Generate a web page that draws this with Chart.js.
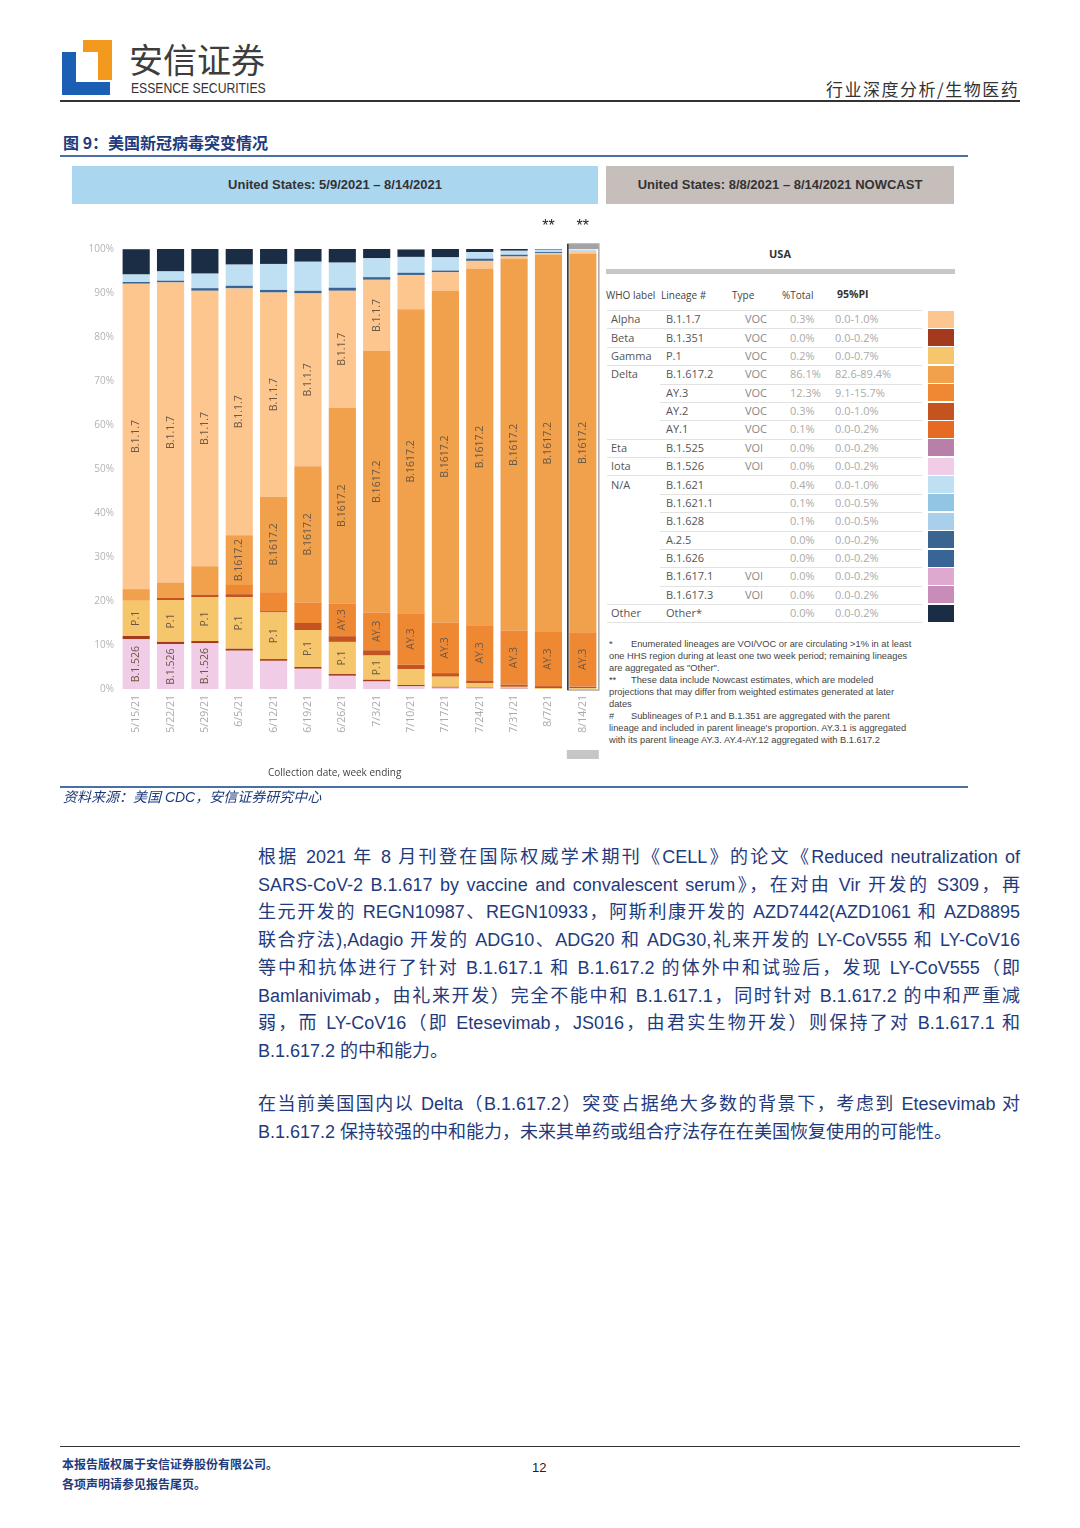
<!DOCTYPE html>
<html>
<head>
<meta charset="utf-8">
<script src="https://cdn.jsdelivr.net/npm/chart.js@4.4.0/dist/chart.umd.min.js"></script>
<style>
  body { margin: 0; background: #fff; width: 1080px; height: 1528px; position: relative; overflow: hidden;
         font-family: "Liberation Sans", Arial, "Noto Sans CJK SC", sans-serif; }
  .abs { position: absolute; }
  .hline { position: absolute; height: 0; }
  .ln { position: absolute; left: 258px; width: 762px; height: 28px; line-height: 28px; font-size: 18px; color: #1f3b7d;
        text-align: justify; text-align-last: justify; font-family: "Liberation Sans", Arial, "Noto Sans CJK SC", sans-serif; }
  .ln.last { text-align-last: left; }
  .tbl { font-family: "Open Sans", sans-serif; font-size: 11px; color: #555; white-space: nowrap; }
  .fn { position: absolute; left: 609px; font-size: 9.3px; line-height: 12px; color: #444; white-space: nowrap; font-family: "Liberation Sans", Arial, sans-serif; }
</style>
</head>
<body>

<!-- header -->
<div class="abs" style="left:83px;top:40px;width:29px;height:12px;background:#f39a1e"></div>
<div class="abs" style="left:98px;top:40px;width:14px;height:40px;background:#f39a1e"></div>
<div class="abs" style="left:62px;top:52px;width:14px;height:43px;background:#1a5fb4"></div>
<div class="abs" style="left:62px;top:82px;width:48px;height:13px;background:#1a5fb4"></div>
<div class="abs" style="left:129px;top:42px;font-size:34px;color:#3d3d3d;font-family:'Noto Sans CJK SC';line-height:34px;height:34px">安信证券</div>
<div class="abs" style="left:131px;top:81px;font-size:14px;color:#333;font-family:'Liberation Sans';line-height:14px;transform:scaleX(0.87);transform-origin:0 0;white-space:nowrap">ESSENCE SECURITIES</div>
<div class="abs" style="left:826px;top:78px;font-size:17px;color:#333;font-family:'Noto Sans CJK SC';line-height:22px;letter-spacing:1.5px">行业深度分析/生物医药</div>
<div class="hline" style="left:60px;top:100px;width:960px;border-top:2px solid #333"></div>

<div class="abs" style="left:63px;top:131px;font-size:16px;font-weight:bold;color:#1f3b7d;font-family:'Noto Sans CJK SC';line-height:22px">图 9：美国新冠病毒突变情况</div>
<div class="hline" style="left:60px;top:155px;width:908px;border-top:2px solid #4a6fa5"></div>

<!-- chart panel headers -->
<div class="abs" style="left:72px;top:166px;width:526px;height:38px;background:#aad6f0;text-align:center;line-height:38px;font-size:13px;font-weight:bold;color:#333">United States: 5/9/2021 – 8/14/2021</div>
<div class="abs" style="left:606px;top:166px;width:348px;height:38px;background:#c6bebb;text-align:center;line-height:38px;font-size:13px;font-weight:bold;color:#333">United States: 8/8/2021 – 8/14/2021 NOWCAST</div>

<div class="abs" style="left:72px;top:205px;width:530px;height:575px"><canvas id="variantChart"></canvas></div>
<div class="abs" style="left:268px;top:765px;font-size:10px;color:#444;font-family:'Open Sans'">Collection date, week ending</div>

<!-- nowcast table -->
<div class="abs tbl" style="left:606px;top:246px;width:348px;text-align:center;font-weight:bold;font-size:11px;color:#333">USA</div>
<div class="abs" style="left:606px;top:269px;width:349px;height:5px;background:#c8c8c8"></div>
<div id="tbl"></div>

<div class="fn" style="top:638px"><span style="display:inline-block;width:22px">*</span>Enumerated lineages are VOI/VOC or are circulating &gt;1% in at least</div>
<div class="fn" style="top:650px">one HHS region during at least one two week period; remaining lineages</div>
<div class="fn" style="top:662px">are aggregated as "Other".</div>
<div class="fn" style="top:674px"><span style="display:inline-block;width:22px">**</span>These data include Nowcast estimates, which are modeled</div>
<div class="fn" style="top:686px">projections that may differ from weighted estimates generated at later</div>
<div class="fn" style="top:698px">dates</div>
<div class="fn" style="top:710px"><span style="display:inline-block;width:22px">#</span>Sublineages of P.1 and B.1.351 are aggregated with the parent</div>
<div class="fn" style="top:722px">lineage and included in parent lineage's proportion. AY.3.1 is aggregated</div>
<div class="fn" style="top:734px">with its parent lineage AY.3. AY.4-AY.12 aggregated with B.1.617.2</div>

<div class="hline" style="left:60px;top:786px;width:908px;border-top:2px solid #4a6fa5"></div>
<div class="abs" style="left:63px;top:787px;font-size:14px;font-style:italic;color:#1f3b7d;line-height:20px;font-family:'Liberation Sans','Noto Sans CJK SC'">资料来源：美国 CDC，安信证券研究中心</div>

<!-- body text -->
<div class="ln" style="top:843px">根据 2021 年 8 月刊登在国际权威学术期刊《CELL》的论文《Reduced neutralization of</div>
<div class="ln" style="top:871px">SARS-CoV-2 B.1.617 by vaccine and convalescent serum》，在对由 Vir 开发的 S309，再</div>
<div class="ln" style="top:898px">生元开发的 REGN10987、REGN10933，阿斯利康开发的 AZD7442(AZD1061 和 AZD8895</div>
<div class="ln" style="top:926px">联合疗法),Adagio 开发的 ADG10、ADG20 和 ADG30,礼来开发的 LY-CoV555 和 LY-CoV16</div>
<div class="ln" style="top:954px">等中和抗体进行了针对 B.1.617.1 和 B.1.617.2 的体外中和试验后，发现 LY-CoV555（即</div>
<div class="ln" style="top:982px">Bamlanivimab，由礼来开发）完全不能中和 B.1.617.1，同时针对 B.1.617.2 的中和严重减</div>
<div class="ln" style="top:1009px">弱，而 LY-CoV16（即 Etesevimab，JS016，由君实生物开发）则保持了对 B.1.617.1 和</div>
<div class="ln last" style="top:1037px">B.1.617.2 的中和能力。</div>
<div class="ln" style="top:1090px">在当前美国国内以 Delta（B.1.617.2）突变占据绝大多数的背景下，考虑到 Etesevimab 对</div>
<div class="ln last" style="top:1118px">B.1.617.2 保持较强的中和能力，未来其单药或组合疗法存在在美国恢复使用的可能性。</div>

<!-- footer -->
<div class="hline" style="left:60px;top:1446px;width:960px;border-top:1.5px solid #333"></div>
<div class="abs" style="left:62px;top:1455px;font-size:12px;font-weight:bold;color:#1f3b7d;font-family:'Noto Sans CJK SC';line-height:18px">本报告版权属于安信证券股份有限公司。</div>
<div class="abs" style="left:62px;top:1475px;font-size:12px;font-weight:bold;color:#1f3b7d;font-family:'Noto Sans CJK SC';line-height:18px">各项声明请参见报告尾页。</div>
<div class="abs" style="left:532px;top:1459px;font-size:13px;color:#222;line-height:18px">12</div>

<script>
// week ending dates
var weeks = ["5/15/21", "5/22/21", "5/29/21", "6/5/21", "6/12/21", "6/19/21", "6/26/21",
             "7/3/21", "7/10/21", "7/17/21", "7/24/21", "7/31/21", "8/7/21", "8/14/21"];

// share of sequences (%), stacked bottom -> top
var b1526  = [11.3, 10.2, 10.4, 8.7, 6.4, 4.6, 3.0, 1.7, 0.6, 0.3, 0.2, 0.1, 0, 0];
var b1351  = [0.75, 0.5, 0.5, 0.45, 0.4, 0.4, 0.4, 0.4, 0.3, 0.2, 0.1, 0.1, 0, 0];
var p1     = [8.0, 9.5, 10.0, 11.7, 10.6, 8.4, 7.3, 5.5, 3.6, 2.3, 1.0, 0.3, 0.2, 0.2];
var ay2    = [0, 0.5, 0.5, 0.7, 0.3, 1.6, 1.3, 1.2, 1.0, 0.8, 0.6, 0.5, 0.45, 0.3];
var ay1    = [0, 0, 0, 0, 0, 0, 0, 0, 0, 0, 0, 0, 0, 0.1];
var ay3    = [0, 0, 0, 2.1, 4.3, 4.7, 7.4, 8.6, 11.7, 11.5, 12.6, 12.3, 12.3, 12.3];
var b16172 = [2.65, 3.5, 6.5, 11.3, 21.7, 30.9, 44.5, 59.4, 69.1, 75.4, 81.0, 84.4, 85.8, 86.1];
var b117   = [69.4, 68.2, 62.6, 56.1, 46.4, 39.3, 26.6, 16.2, 7.8, 4.2, 1.8, 0.6, 0.3, 0.3];
var b1626  = [0.4, 0.4, 0.6, 0.6, 0.6, 0.6, 0.7, 0.6, 0.5, 0.4, 0.5, 0.4, 0.25, 0];
var b1628  = [0, 0, 0, 0, 0, 0, 0, 0, 0, 0, 0, 0, 0, 0.1];
var b16211 = [0, 0, 0, 0, 0, 0, 0, 0, 0, 0, 0, 0, 0, 0.1];
var b1621  = [1.7, 2.1, 3.3, 4.8, 5.9, 6.6, 5.7, 4.3, 3.6, 3.0, 1.5, 0.9, 0.55, 0.4];
var other  = [5.75, 5.2, 5.7, 3.6, 3.4, 2.9, 3.1, 2.1, 1.7, 1.9, 0.75, 0.45, 0.25, 0];

var yTicks = [0, 10, 20, 30, 40, 50, 60, 70, 80, 90, 100];

// nowcast table (8/8 - 8/14)
var whoLabel = ["Alpha", "Beta", "Gamma", "Delta", "", "", "", "Eta", "Iota", "N/A", "", "", "", "", "", "", "Other"];
var lineage  = ["B.1.1.7", "B.1.351", "P.1", "B.1.617.2", "AY.3", "AY.2", "AY.1", "B.1.525", "B.1.526", "B.1.621",
                "B.1.621.1", "B.1.628", "A.2.5", "B.1.626", "B.1.617.1", "B.1.617.3", "Other*"];
var vType    = ["VOC", "VOC", "VOC", "VOC", "VOC", "VOC", "VOC", "VOI", "VOI", "", "", "", "", "", "VOI", "VOI", ""];
var pctTotal = ["0.3%", "0.0%", "0.2%", "86.1%", "12.3%", "0.3%", "0.1%", "0.0%", "0.0%", "0.4%", "0.1%", "0.1%",
                "0.0%", "0.0%", "0.0%", "0.0%", "0.0%"];
var pi95     = ["0.0-1.0%", "0.0-0.2%", "0.0-0.7%", "82.6-89.4%", "9.1-15.7%", "0.0-1.0%", "0.0-0.2%", "0.0-0.2%",
                "0.0-0.2%", "0.0-1.0%", "0.0-0.5%", "0.0-0.5%", "0.0-0.2%", "0.0-0.2%", "0.0-0.2%", "0.0-0.2%", "0.0-0.2%"];
var swatch   = ["#fdc68f", "#a33a1e", "#f5c66b", "#f1a04b", "#ef8833", "#c4531f", "#e56a24", "#b880a8", "#f0cce6",
                "#bfe0f2", "#92c4e3", "#a8d0ea", "#3a6591", "#386596", "#dfa9cf", "#c98cba", "#1b2d45"];

function col(name) { return swatch[lineage.indexOf(name)]; }

// build table
var tbl = document.getElementById("tbl");
var hdr = [["WHO label", 606], ["Lineage #", 661], ["Type", 732], ["%Total", 782]];
hdr.forEach(function (h) {
  var d = document.createElement("div");
  d.className = "abs tbl";
  d.style.cssText = "left:" + h[1] + "px;top:288px;font-size:10px;color:#444";
  d.textContent = h[0];
  tbl.appendChild(d);
});
var hPI = document.createElement("div");
hPI.className = "abs tbl";
hPI.style.cssText = "left:837px;top:287px;font-size:10.5px;font-weight:bold;color:#333";
hPI.textContent = "95%PI";
tbl.appendChild(hPI);

var rowH = 18.375, row0 = 310;
for (var i = 0; i < lineage.length; i++) {
  var rowTop = row0 + i * rowH;
  var line = document.createElement("div");
  line.className = "hline";
  var x0 = whoLabel[i] !== "" ? 607 : 660;
  line.style.cssText = "left:" + x0 + "px;top:" + rowTop + "px;width:" + (922 - x0) + "px;border-top:1px solid #e2e2e2";
  tbl.appendChild(line);
  var cells = [[whoLabel[i], 611, "#555"], [lineage[i], 666, "#555"], [vType[i], 745, "#888"],
               [pctTotal[i], 790, "#aaa"], [pi95[i], 835, "#aaa"]];
  cells.forEach(function (c) {
    var d = document.createElement("div");
    d.className = "abs tbl";
    d.style.cssText = "left:" + c[1] + "px;top:" + (rowTop + 1.2) + "px;line-height:16px;color:" + c[2];
    d.textContent = c[0];
    tbl.appendChild(d);
  });
  var sw = document.createElement("div");
  sw.className = "abs";
  sw.style.cssText = "left:928px;top:" + (rowTop + 0.7) + "px;width:26px;height:17px;background:" + swatch[i];
  tbl.appendChild(sw);
}
var endLine = document.createElement("div");
endLine.className = "hline";
endLine.style.cssText = "left:607px;top:" + (row0 + 17 * rowH) + "px;width:315px;border-top:1px solid #e2e2e2";
tbl.appendChild(endLine);

// keep body lines on one line each
document.querySelectorAll(".ln").forEach(function (el) {
  var ls = 0;
  while (el.scrollHeight > 40 && ls > -3) {
    ls -= 0.1;
    el.style.letterSpacing = ls + "px";
  }
});

// in-bar labels
var segLabels = { "B.1.526": "B.1.526", "P.1": "P.1", "AY.3": "AY.3", "B.1.617.2": "B.1617.2", "B.1.1.7": "B.1.1.7" };

var labelPlugin = {
  id: "segLabels",
  afterDatasetsDraw: function (chart) {
    var ctx = chart.ctx;
    ctx.save();
    ctx.font = "10.5px 'Open Sans'";
    ctx.fillStyle = "#6b5845";
    ctx.textAlign = "center";
    ctx.textBaseline = "middle";
    chart.data.datasets.forEach(function (ds, di) {
      var txt = segLabels[ds.label];
      if (!txt) return;
      var meta = chart.getDatasetMeta(di);
      var tw = ctx.measureText(txt).width;
      meta.data.forEach(function (bar) {
        var h = Math.abs(bar.base - bar.y);
        if (h < tw + 6) return;
        ctx.save();
        ctx.translate(bar.x, (bar.y + bar.base) / 2);
        ctx.rotate(-Math.PI / 2);
        ctx.fillText(txt, 0, 0);
        ctx.restore();
      });
    });
    // nowcast highlight on the last week
    var xs = chart.scales.x, ys = chart.scales.y;
    var n = weeks.length - 1;
    var cx = xs.getPixelForValue(n);
    var yTop = ys.getPixelForValue(100) - 5, yBot = ys.getPixelForValue(0) + 1;
    ctx.fillStyle = "#a3a3a3";
    ctx.fillRect(cx - 15, yTop, 31, 5);
    ctx.strokeStyle = "#a8a8a8";
    ctx.lineWidth = 1.5;
    ctx.strokeRect(cx - 15, yTop, 31, yBot - yTop);
    ctx.strokeStyle = "#333";
    ctx.beginPath();
    ctx.moveTo(cx - 15, yTop);
    ctx.lineTo(cx - 15, yBot);
    ctx.stroke();
    ctx.fillStyle = "#c6c6c6";
    ctx.fillRect(cx - 16, yBot + 60, 32, 9);
    // nowcast markers
    ctx.fillStyle = "#222";
    ctx.font = "16px 'Liberation Sans'";
    ctx.fillText("**", xs.getPixelForValue(n - 1), yTop - 17);
    ctx.fillText("**", cx, yTop - 17);
    ctx.restore();
  }
};

function ds(label, data, color) {
  return { label: label, data: data, backgroundColor: color, borderWidth: 0, stack: "s" };
}

var ctx = document.getElementById("variantChart").getContext("2d");
var myChart = new Chart(ctx, {
  type: "bar",
  data: {
    labels: weeks,
    datasets: [
      ds("B.1.526", b1526, col("B.1.526")),
      ds("B.1.351", b1351, col("B.1.351")),
      ds("P.1", p1, col("P.1")),
      ds("AY.2", ay2, col("AY.2")),
      ds("AY.1", ay1, col("AY.1")),
      ds("AY.3", ay3, col("AY.3")),
      ds("B.1.617.2", b16172, col("B.1.617.2")),
      ds("B.1.1.7", b117, col("B.1.1.7")),
      ds("B.1.626", b1626, col("B.1.626")),
      ds("B.1.628", b1628, col("B.1.628")),
      ds("B.1.621.1", b16211, col("B.1.621.1")),
      ds("B.1.621", b1621, col("B.1.621")),
      ds("Other", other, col("Other*"))
    ]
  },
  options: {
    responsive: true,
    maintainAspectRatio: false,
    animation: false,
    layout: { padding: { top: 44, right: 2, left: 0, bottom: 0 } },
    datasets: { bar: { categoryPercentage: 1, barPercentage: 0.79 } },
    plugins: { legend: { display: false }, tooltip: { enabled: false } },
    scales: {
      x: {
        stacked: true,
        grid: { display: false, drawTicks: false },
        border: { display: false },
        ticks: { minRotation: 90, maxRotation: 90, padding: 6, color: "#aaaaaa", font: { family: "Open Sans", size: 10.5 } },
        afterFit: function (s) { s.height = 91; }
      },
      y: {
        stacked: true,
        min: 0,
        max: 100,
        grid: { display: false, drawTicks: false },
        border: { display: false },
        afterBuildTicks: function (s) { s.ticks = yTicks.map(function (v) { return { value: v }; }); },
        ticks: { padding: 5, color: "#b3b3b3", font: { family: "Open Sans", size: 10 },
                 callback: function (v) { return v + "%"; } },
        afterFit: function (s) { s.width = 47; }
      }
    }
  },
  plugins: [labelPlugin]
});
</script>
</body>
</html>
